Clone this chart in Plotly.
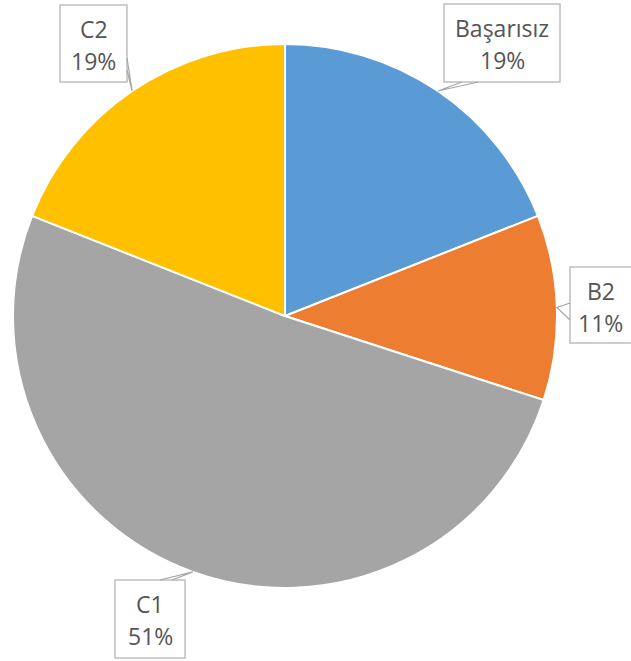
import math
import plotly.graph_objects as go

categories = ["Başarısız", "B2", "C1", "C2"]
values = [19, 11, 51, 19]
percent_labels = ["19%", "11%", "51%", "19%"]
colors = ["#5B9BD5", "#ED7D31", "#A5A5A5", "#FFC000"]

W, H = 631, 661
CX, CY, R = 285, 316, 272

def px(x):
    return x / W

def py(y):
    return 1 - y / H

fig = go.Figure(go.Pie(
    labels=categories,
    values=values,
    sort=False,
    direction="clockwise",
    rotation=0,
    marker=dict(colors=colors, line=dict(color="white", width=2)),
    textinfo="none",
    hoverinfo="label+percent",
    domain=dict(x=[px(CX - R), px(CX + R)], y=[py(CY + R), py(CY - R)]),
    showlegend=False,
))

# label boxes (left, top, right, bottom) and leader-line anchor points on the boxes
boxes = {
    "Başarısız": (444, 4, 560, 82),
    "B2": (570, 267, 633, 343),
    "C1": (115, 580, 185, 658),
    "C2": (60, 5, 127, 82),
}
anchors = {
    "Başarısız": [(462, 82), (478, 82)],
    "B2": [(570, 303), (570, 320)],
    "C1": [(160, 580), (172, 580)],
    "C2": [(127, 58), (127, 70)],
}

total = sum(values)
cum = 0
shapes = []
annotations = []
line_col = "#BFBFBF"
text_col = "#555555"
font_family = "Open Sans, Lato, sans-serif"
for cat, v, pl in zip(categories, values, percent_labels):
    mid = 2 * math.pi * (cum + v / 2) / total
    cum += v
    tx = CX + R * math.sin(mid)
    ty = CY - R * math.cos(mid)
    l, t, r_, b = boxes[cat]
    shapes.append(dict(type="rect", xref="paper", yref="paper",
                       x0=px(l), x1=px(r_), y0=py(b), y1=py(t),
                       line=dict(color=line_col, width=1.5), fillcolor="white", layer="above"))
    (ax1, ay1), (ax2, ay2) = anchors[cat]
    path = "M {} {} L {} {} L {} {}".format(px(ax1), py(ay1), px(tx), py(ty), px(ax2), py(ay2))
    shapes.append(dict(type="path", xref="paper", yref="paper", path=path,
                       line=dict(color="#A6A6A6", width=1.2), layer="above"))
    cxb = (l + min(r_, W)) / 2
    annotations.append(dict(x=px(cxb), y=py(t + 24), xref="paper", yref="paper",
                            text=cat, showarrow=False, xanchor="center", yanchor="middle",
                            font=dict(family=font_family, size=23, color=text_col)))
    annotations.append(dict(x=px(cxb), y=py(t + 56), xref="paper", yref="paper",
                            text=pl, showarrow=False, xanchor="center", yanchor="middle",
                            font=dict(family=font_family, size=23, color=text_col)))

fig.update_layout(
    width=W, height=H,
    margin=dict(l=0, r=0, t=0, b=0),
    paper_bgcolor="white",
    plot_bgcolor="white",
    shapes=shapes,
    annotations=annotations,
)

fig.write_html("out.html", config={"displayModeBar": False},
               post_script="document.body.style.margin='0';document.body.style.overflow='hidden';")
